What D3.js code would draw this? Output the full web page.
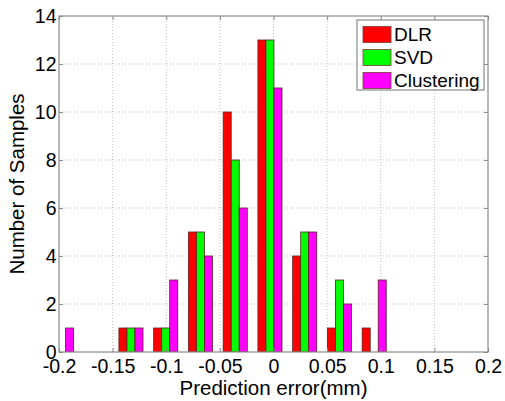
<!DOCTYPE html>
<html><head><meta charset="utf-8">
<script src="https://cdn.jsdelivr.net/npm/d3@7"></script>
<style>body{margin:0;background:#fff}svg{display:block}</style>
</head><body>
<script>
const binCenters = [-0.1977, -0.1653, -0.1329, -0.1005, -0.0681, -0.0357, -0.0033, 0.0291, 0.0615, 0.0939];
const seriesNames = ["DLR", "SVD", "Clustering"];
const dlr = [0, 0, 1, 1, 5, 10, 13, 4, 1, 1];
const svd = [0, 0, 1, 1, 5, 8, 13, 5, 3, 0];
const clustering = [1, 0, 1, 3, 4, 6, 11, 5, 2, 3];
const colors = ["#ff0000", "#00ff00", "#ff00ff"];
const xTicks = [-0.2, -0.15, -0.1, -0.05, 0, 0.05, 0.1, 0.15, 0.2];
const yTicks = [0, 2, 4, 6, 8, 10, 12, 14];
const xTickLabels = ["-0.2", "-0.15", "-0.1", "-0.05", "0", "0.05", "0.1", "0.15", "0.2"];

const W = 505, H = 401;
const m = {l: 59, r: 17, t: 16, b: 49};
const svg = d3.select("body").append("svg").attr("width", W).attr("height", H);
const x = d3.scaleLinear().domain([-0.2, 0.2]).range([m.l, W - m.r]);
const y = d3.scaleLinear().domain([0, 14]).range([H - m.b, m.t]);
const font = "'Liberation Sans', Arial, sans-serif";

// grid
const g = svg.append("g");
g.selectAll(".gx").data(xTicks.slice(1, -1)).enter().append("line")
  .attr("x1", d => x(d)).attr("x2", d => x(d)).attr("y1", y(0)).attr("y2", y(14))
  .attr("stroke", "#bdbdbd").attr("stroke-width", 1).attr("stroke-dasharray", "1,2");
g.selectAll(".gy").data(yTicks.slice(1, -1)).enter().append("line")
  .attr("x1", x(-0.2)).attr("x2", x(0.2)).attr("y1", d => y(d)).attr("y2", d => y(d))
  .attr("stroke", "#bdbdbd").attr("stroke-width", 1).attr("stroke-dasharray", "1,2");

// bars
const step = binCenters[1] - binCenters[0];
const barW = x(step * 0.231) - x(0);
const series = [dlr, svd, clustering];
const clip = svg.append("clipPath").attr("id", "c").append("rect")
  .attr("x", x(-0.2)).attr("y", y(14)).attr("width", x(0.2) - x(-0.2)).attr("height", y(0) - y(14));
const bars = svg.append("g").attr("clip-path", "url(#c)");
series.forEach((s, si) => {
  bars.selectAll(".b" + si).data(s.map((v, i) => ({v, c: binCenters[i]})).filter(d => d.v > 0))
    .enter().append("rect")
    .attr("x", d => x(d.c) + (si - 1.5) * barW)
    .attr("width", barW)
    .attr("y", d => y(d.v))
    .attr("height", d => y(0) - y(d.v))
    .attr("fill", colors[si])
    .attr("stroke", "#5a2020").attr("stroke-width", 0.8);
});

// axes box
const axCol = "#8a8a8a";
svg.append("rect").attr("x", x(-0.2)).attr("y", y(14)).attr("width", x(0.2) - x(-0.2))
  .attr("height", y(0) - y(14)).attr("fill", "none").attr("stroke", axCol).attr("stroke-width", 1.2);

const xAxis = d3.axisBottom(x).tickValues(xTicks).tickSize(-4).tickFormat((d, i) => xTickLabels[i]).tickPadding(7);
const xg = svg.append("g").attr("transform", `translate(0,${y(0)})`).call(xAxis);
const xAxisTop = d3.axisTop(x).tickValues(xTicks).tickSize(-4).tickFormat("");
svg.append("g").attr("transform", `translate(0,${y(14)})`).call(xAxisTop);
const yAxis = d3.axisLeft(y).tickValues(yTicks).tickSize(-4).tickPadding(2.5);
const yg = svg.append("g").attr("transform", `translate(${x(-0.2)},0)`).call(yAxis);
const yAxisR = d3.axisRight(y).tickValues(yTicks).tickSize(-4).tickFormat("");
svg.append("g").attr("transform", `translate(${x(0.2)},0)`).call(yAxisR);
svg.selectAll(".domain").remove();
svg.selectAll(".tick line").attr("stroke", axCol);
svg.selectAll(".tick text").attr("fill", "#000").style("font-family", font).style("font-size", "19.5px");
xg.selectAll(".tick text").attr("dy", "0.71em");

// axis labels
svg.append("text").attr("x", (x(-0.2) + x(0.2)) / 2).attr("y", 395)
  .attr("text-anchor", "middle").style("font-family", font).style("font-size", "20.5px")
  .text("Prediction error(mm)");
svg.append("text").attr("transform", `translate(24,${(y(0) + y(14)) / 2}) rotate(-90)`)
  .attr("text-anchor", "middle").style("font-family", font).style("font-size", "20.5px")
  .text("Number of Samples");

// legend
const lg = svg.append("g");
lg.append("rect").attr("x", 357).attr("y", 20).attr("width", 127).attr("height", 70)
  .attr("fill", "#fff").attr("stroke", axCol).attr("stroke-width", 1.2);
seriesNames.forEach((n, i) => {
  const cy = 34.5 + i * 23;
  lg.append("rect").attr("x", 363).attr("y", cy - 8).attr("width", 28).attr("height", 16)
    .attr("fill", colors[i]).attr("stroke", "#7a3a3a").attr("stroke-width", 0.8);
  lg.append("text").attr("x", 394).attr("y", cy).attr("dy", "0.36em")
    .style("font-family", font).style("font-size", "19px").text(n);
});
</script>
</body></html>
